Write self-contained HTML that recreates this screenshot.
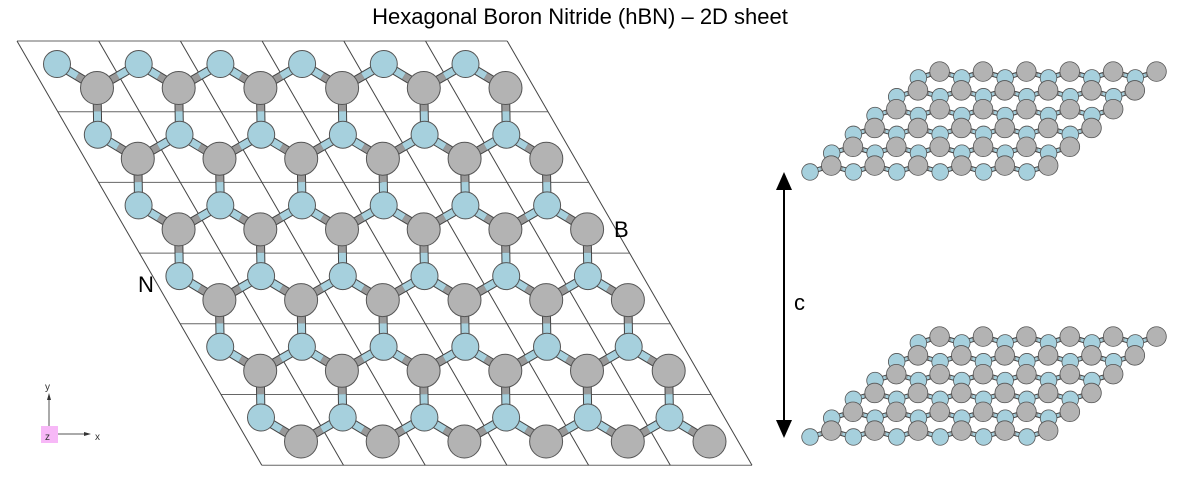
<!DOCTYPE html>
<html><head><meta charset="utf-8"><style>
html,body{margin:0;padding:0;background:#fff;width:1200px;height:485px;overflow:hidden}
svg{display:block}
text{font-family:"Liberation Sans",sans-serif}
</style></head><body>
<svg id="s" width="1200" height="485" viewBox="0 0 1200 485" xmlns="http://www.w3.org/2000/svg">
<text x="580" y="24" font-size="22" text-anchor="middle" fill="#000">Hexagonal Boron Nitride (hBN) – 2D sheet</text>
<g id="main"></g>
<g id="small"></g>
<text x="138" y="292" font-size="22" fill="#000">N</text>
<text x="614" y="237" font-size="22" fill="#000">B</text>
<text x="794" y="310" font-size="22" fill="#000">c</text>
<line x1="784" y1="186" x2="784" y2="424" stroke="#000" stroke-width="2"/>
<polygon points="784,172 776,190 792,190" fill="#000"/>
<polygon points="784,438 776,420 792,420" fill="#000"/>
<line x1="49" y1="426" x2="49" y2="398" stroke="#555" stroke-width="1"/>
<polygon points="49,393 47,400 51,400" fill="#333"/>
<line x1="57" y1="434" x2="86" y2="434" stroke="#555" stroke-width="1"/>
<polygon points="91,434 84,432 84,436" fill="#333"/>
<rect x="41" y="426" width="17" height="17" fill="#f7b8f7"/>
<text x="45" y="440" font-size="10" fill="#333">z</text>
<text x="45" y="390" font-size="10" fill="#333">y</text>
<text x="95" y="440" font-size="10" fill="#333">x</text>
</svg>
<script>
var NS="http://www.w3.org/2000/svg";
function el(p,t,a){var e=document.createElementNS(NS,t);for(var k in a)e.setAttribute(k,a[k]);p.appendChild(e);return e;}
var NC="#a6d0dd",BC="#b3b3b3",ST="#555";
var ax=81.7,bx=40.8,by=70.7,ox=17,oy=41;
var m=document.getElementById("main");
// grid
for(var j=0;j<=6;j++){var x0=ox+j*bx,y=oy+j*by;el(m,"line",{x1:x0,y1:y,x2:x0+6*ax,y2:y,stroke:"#666","stroke-width":1});}
for(var i=0;i<=6;i++){var x0=ox+i*ax;el(m,"line",{x1:x0,y1:oy,x2:x0+6*bx,y2:oy+6*by,stroke:"#444","stroke-width":1});}
function P(i,j,dx,dy){return [ox+i*ax+j*bx+dx, oy+j*by+dy];}
function bond(g,b,n,w){var mx=(b[0]+n[0])/2,my=(b[1]+n[1])/2;
 el(g,"line",{x1:b[0],y1:b[1],x2:n[0],y2:n[1],stroke:"#444","stroke-width":w+2});
 el(g,"line",{x1:b[0],y1:b[1],x2:mx,y2:my,stroke:"#999","stroke-width":w});
 el(g,"line",{x1:mx,y1:my,x2:n[0],y2:n[1],stroke:NC,"stroke-width":w});}
for(var j=0;j<6;j++)for(var i=0;i<6;i++){var B=P(i,j,80,47);
 bond(m,B,P(i,j,40,23),7);
 if(i<5)bond(m,B,P(i+1,j,40,23),7);
 if(j<5)bond(m,B,P(i,j+1,40,23),7);}
for(var j=0;j<6;j++)for(var i=0;i<6;i++){var N=P(i,j,40,23),B=P(i,j,80,47);
 el(m,"circle",{cx:N[0],cy:N[1],r:13.5,fill:NC,stroke:ST,"stroke-width":1});
 el(m,"circle",{cx:B[0],cy:B[1],r:16.5,fill:BC,stroke:ST,"stroke-width":1});}
// small sheets
var s=document.getElementById("small");
function sheet(dy){
 function Q(i,j,dx,ddy){var p=P(i,j,dx,ddy);return [788.8+0.531*(p[0]-ox),178.1+dy-0.266*(p[1]-oy)];}
 for(var j=5;j>=0;j--){
  for(var i=0;i<6;i++){var B=Q(i,j,80,47);
   bond(s,B,Q(i,j,40,23),3);
   if(i<5)bond(s,B,Q(i+1,j,40,23),3);
   if(j<5)bond(s,B,Q(i,j+1,40,23),3);}
 }
 for(var j=5;j>=0;j--){
  for(var i=0;i<6;i++){var N=Q(i,j,40,23),B=Q(i,j,80,47);
   el(s,"circle",{cx:N[0],cy:N[1],r:8.3,fill:NC,stroke:ST,"stroke-width":0.8});
   el(s,"circle",{cx:B[0],cy:B[1],r:9.8,fill:BC,stroke:ST,"stroke-width":0.8});}
 }
}
sheet(0);sheet(265);
</script>
</body></html>
